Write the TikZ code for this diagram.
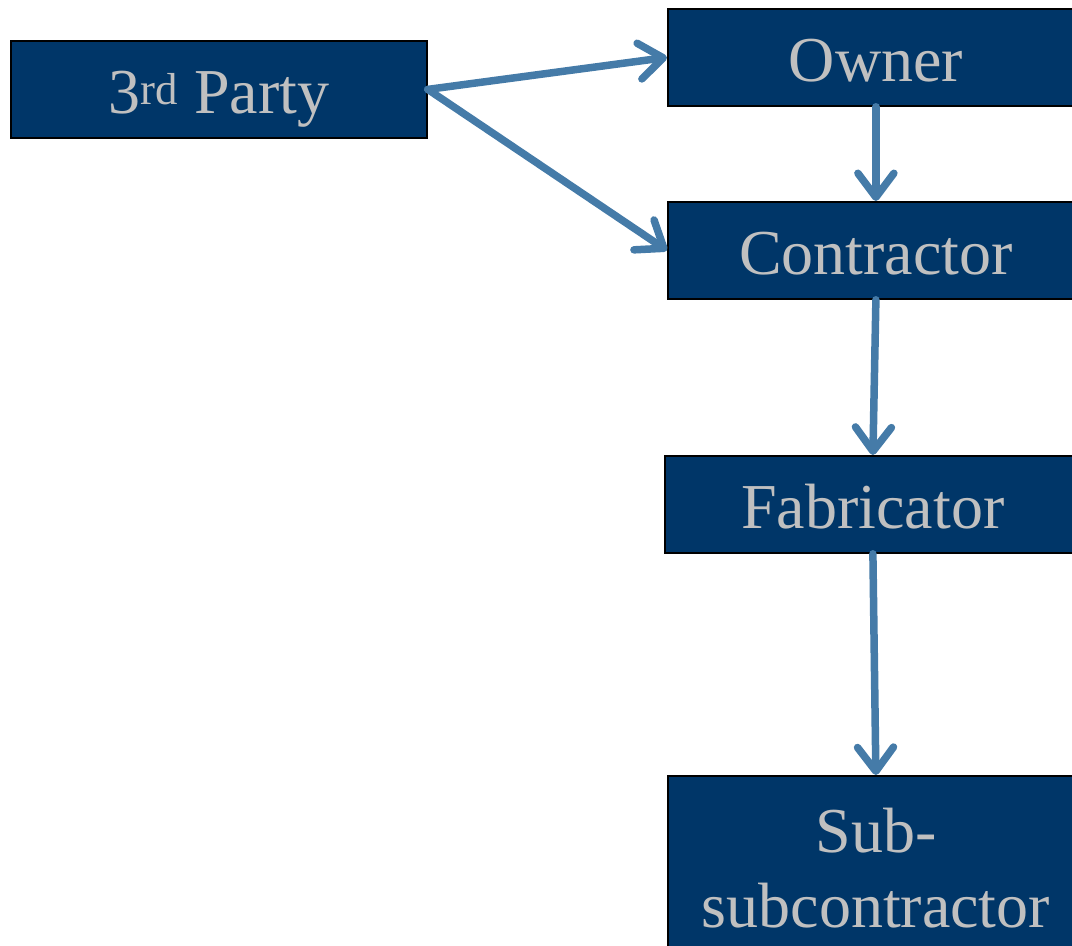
\documentclass[tikz,border=0pt]{standalone}
\usepackage{fontspec}
\setmainfont{Liberation Serif}
\usetikzlibrary{arrows.meta}
\definecolor{boxfill}{RGB}{0,54,104}
\definecolor{boxtext}{RGB}{192,192,192}
\definecolor{arrowc}{RGB}{69,123,168}
\tikzset{
  orgbox/.style={draw=black, line width=1.8pt, fill=boxfill, text=boxtext,
    minimum width=416pt, minimum height=97pt, anchor=north west,
    font=\fontsize{64}{75}\selectfont, inner sep=0pt, align=center},
  onel/.style={text height=58pt, text depth=10pt},
  link/.style={draw=arrowc, line width=7.5pt, line cap=round,
    -{Straight Barb[length=24pt,width=36pt,round]}}
}
\begin{document}
\begin{tikzpicture}[x=1pt,y=-1pt]
\useasboundingbox (0,0) rectangle (1072,946);
\clip (0,0) rectangle (1072,946);
\node[orgbox,onel] (party) at (10,40) {3\textsuperscript{rd} Party};
\node[orgbox,onel] (owner) at (667,8) {Owner};
\node[orgbox,onel] (contr) at (667,201) {Contractor};
\node[orgbox,onel] (fab) at (664,455) {Fabricator};
\node[orgbox,minimum height=185pt] (sub) at (667,775) {Sub-\\subcontractor};
\draw[link] (party.east) -- (owner.west);
\draw[link] (party.east) -- (contr.west);
\draw[link] (owner.south) -- (contr.north);
\draw[link] (contr.south) -- (fab.north);
\draw[link] (fab.south) -- (sub.north);
\end{tikzpicture}
\end{document}
